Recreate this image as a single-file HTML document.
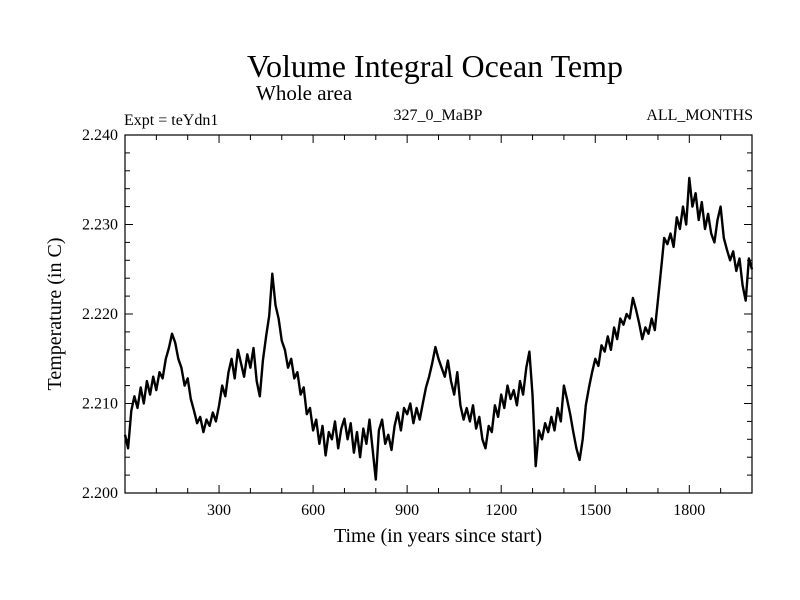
<!DOCTYPE html>
<html><head><meta charset="utf-8"><style>
html,body{margin:0;padding:0;background:#fff;}
svg{display:block;font-family:"Liberation Serif",serif;}
</style></head><body>
<svg id="chart" width="800" height="600" xmlns="http://www.w3.org/2000/svg">
<text x="435" y="77" font-size="32" text-anchor="middle">Volume Integral Ocean Temp</text>
<text x="256" y="100" font-size="21">Whole area</text>
<text x="124" y="125" font-size="16">Expt = teYdn1</text>
<text x="438" y="120" font-size="16" text-anchor="middle">327_0_MaBP</text>
<text x="753" y="120" font-size="16" text-anchor="end">ALL_MONTHS</text>
<text x="438" y="542" font-size="20" text-anchor="middle">Time (in years since start)</text>
<text transform="translate(61,314) rotate(-90)" font-size="20" text-anchor="middle">Temperature (in C)</text>
<g id="axes"></g>
<g id="plot"></g>
<rect x="125" y="135" width="627" height="358" fill="none" stroke="#000" stroke-width="1.2"/>
</svg>
<script>
const yTickValues=[2.200,2.210,2.220,2.230,2.240];
const yTickLabels=["2.200","2.210","2.220","2.230","2.240"];
const xTickValues=[300,600,900,1200,1500,1800];
const xTickLabels=["300","600","900","1200","1500","1800"];
const yearStart=0, yearStep=10;
const temps=[
2.2065,2.2050,2.2092,2.2108,2.2095,2.2118,2.2100,2.2125,2.2110,2.2130,
2.2115,2.2135,2.2128,2.2150,2.2162,2.2178,2.2168,2.2150,2.2140,2.2120,
2.2128,2.2105,2.2092,2.2078,2.2085,2.2068,2.2082,2.2075,2.2090,2.2080,
2.2098,2.2120,2.2108,2.2135,2.2150,2.2128,2.2160,2.2145,2.2130,2.2155,
2.2140,2.2162,2.2125,2.2108,2.2148,2.2175,2.2198,2.2245,2.2210,2.2195,
2.2170,2.2160,2.2140,2.2150,2.2128,2.2135,2.2110,2.2118,2.2088,2.2095,
2.2070,2.2082,2.2055,2.2075,2.2042,2.2068,2.2060,2.2080,2.2050,2.2072,
2.2083,2.2060,2.2078,2.2045,2.2068,2.2040,2.2072,2.2055,2.2082,2.2048,
2.2015,2.2070,2.2082,2.2055,2.2065,2.2048,2.2075,2.2090,2.2070,2.2095,
2.2088,2.2100,2.2078,2.2095,2.2082,2.2100,2.2118,2.2130,2.2145,2.2163,
2.2150,2.2140,2.2130,2.2148,2.2125,2.2110,2.2135,2.2098,2.2082,2.2095,
2.2080,2.2098,2.2072,2.2085,2.2060,2.2050,2.2075,2.2068,2.2098,2.2085,
2.2110,2.2095,2.2120,2.2105,2.2115,2.2098,2.2125,2.2110,2.2140,2.2158,
2.2110,2.2030,2.2070,2.2060,2.2078,2.2068,2.2085,2.2070,2.2095,2.2080,
2.2120,2.2105,2.2088,2.2068,2.2050,2.2037,2.2060,2.2098,2.2118,2.2135,
2.2150,2.2142,2.2165,2.2158,2.2175,2.2160,2.2185,2.2172,2.2195,2.2188,
2.2200,2.2195,2.2218,2.2205,2.2190,2.2172,2.2185,2.2178,2.2195,2.2182,
2.2215,2.2250,2.2285,2.2278,2.2290,2.2275,2.2308,2.2295,2.2320,2.2300,
2.2352,2.2320,2.2335,2.2305,2.2325,2.2295,2.2312,2.2290,2.2280,2.2305,
2.2320,2.2285,2.2272,2.2260,2.2270,2.2248,2.2262,2.2232,2.2215,2.2262,
2.2250];
const X0=125,X1=752,Y0=493,Y1=135,xmin=0,xmax=2000,ymin=2.200,ymax=2.240;
const xs=v=>X0+(v-xmin)/(xmax-xmin)*(X1-X0);
const ys=v=>Y0-(v-ymin)/(ymax-ymin)*(Y0-Y1);
const NS="http://www.w3.org/2000/svg";
const axes=document.getElementById('axes'),plot=document.getElementById('plot');
function mk(tag,attrs,parent){const e=document.createElementNS(NS,tag);for(const k in attrs)e.setAttribute(k,attrs[k]);parent.appendChild(e);return e;}
for(let v=100;v<2000;v+=100){
  const l=mk('line',{x1:xs(v),x2:xs(v),y1:Y0,y2:Y0-(v%300===0?8:5),stroke:'#000','stroke-width':1},axes);
  
  
  const t=mk('line',{x1:xs(v),x2:xs(v),y1:Y1,y2:Y1+(v%300===0?8:5),stroke:'#000','stroke-width':1},axes);
  
  
}
for(let i=1;i<20;i++){
  const v=ymin+i*0.002;const major=i%5===0;
  const l=mk('line',{x1:X0,x2:X0+(major?8:5),y1:ys(v),y2:ys(v),stroke:'#000','stroke-width':1},axes);
  
  
  const r=mk('line',{x1:X1,x2:X1-(major?8:5),y1:ys(v),y2:ys(v),stroke:'#000','stroke-width':1},axes);
  
  
}
xTickValues.forEach((v,i)=>{
  const t=mk('text',{x:xs(v),y:Y0+22,'font-size':16,'text-anchor':'middle'},axes);
  t.textContent=xTickLabels[i];
  
  
});
yTickValues.forEach((v,i)=>{
  const t=mk('text',{x:X0-7,y:ys(v)+5,'font-size':16,'text-anchor':'end'},axes);
  t.textContent=yTickLabels[i];
  
  
});
const pts=temps.map((v,i)=>xs(yearStart+i*yearStep).toFixed(1)+','+ys(v).toFixed(1)).join(' ');
const line=mk('polyline',{points:pts,fill:'none',stroke:'#000','stroke-width':2.4,'stroke-linejoin':'round'},plot);


</script>
</body></html>
